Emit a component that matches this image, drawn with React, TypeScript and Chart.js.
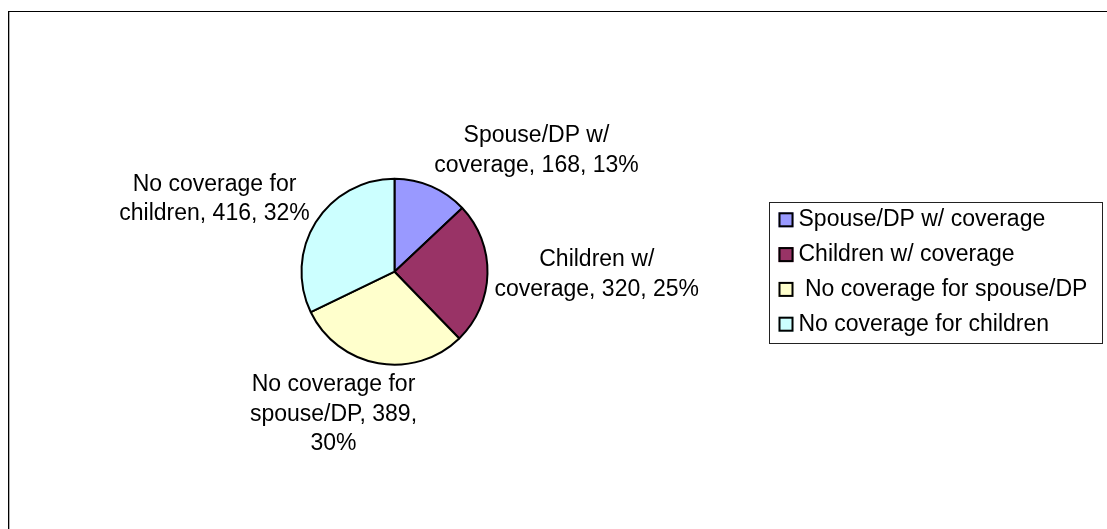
import React, { useEffect, useRef } from "react";
import { Chart, registerables } from "chart.js";

Chart.register(...registerables);

// ---- data ----
const categories = [
  "Spouse/DP w/ coverage",
  "Children w/ coverage",
  " No coverage for spouse/DP",
  "No coverage for children",
];
const counts = [168, 320, 389, 416];
const sliceColors = ["#9999FF", "#993366", "#FFFFCC", "#CCFFFF"];

// ---- style ----
const FONT = "'Liberation Sans', Arial, Helvetica, sans-serif";
const FONT_SIZE = 23;
const LINE_H = 29.5;
const WRAP_W = 210;
const W = 1107;
const H = 529;

function wrapText(ctx: CanvasRenderingContext2D, text: string, maxW: number): string[] {
  const words = text.split(" ");
  const lines: string[] = [];
  let cur = "";
  for (const w of words) {
    const test = cur ? cur + " " + w : w;
    if (cur && ctx.measureText(test).width > maxW) {
      lines.push(cur);
      cur = w;
    } else {
      cur = test;
    }
  }
  if (cur) lines.push(cur);
  return lines;
}

const framePlugin = {
  id: "frame",
  beforeDraw(chart: any) {
    const ctx = chart.ctx as CanvasRenderingContext2D;
    ctx.save();
    ctx.fillStyle = "#fff";
    ctx.fillRect(0, 0, chart.width, chart.height);
    ctx.fillStyle = "#000";
    ctx.fillRect(8, 11, 1, chart.height);
    ctx.fillRect(8, 11, chart.width, 1);
    ctx.fillStyle = "#b0b0b0";
    ctx.fillRect(9, 12, 1, chart.height);
    ctx.restore();
  },
};

const labelPlugin = {
  id: "sliceLabels",
  afterDatasetsDraw(chart: any) {
    const ctx = chart.ctx as CanvasRenderingContext2D;
    const meta = chart.getDatasetMeta(0);
    const values = chart.data.datasets[0].data as number[];
    const total = values.reduce((a, b) => a + b, 0);
    const clamp = (v: number) => Math.max(-1, Math.min(1, v));
    ctx.save();
    ctx.font = `${FONT_SIZE}px ${FONT}`;
    ctx.fillStyle = "#000";
    ctx.textAlign = "center";
    ctx.textBaseline = "middle";
    meta.data.forEach((el: any, i: number) => {
      const p = el.getProps(["x", "y", "startAngle", "endAngle", "outerRadius"], true);
      const m = (p.startAngle + p.endAngle) / 2;
      const R = p.outerRadius + 1 + 6;
      const ax = p.x + Math.cos(m) * R;
      const ay = p.y + Math.sin(m) * R;
      const pct = Math.round((values[i] / total) * 100);
      const text = `${String(chart.data.labels[i]).trim()}, ${values[i]}, ${pct}%`;
      const lines = wrapText(ctx, text, WRAP_W);
      const w = Math.max(...lines.map((l) => ctx.measureText(l).width));
      const h = lines.length * LINE_H;
      const fx = 0.5 * (1 - clamp(3 * Math.cos(m)));
      const fy = 0.5 * (1 - clamp(1.25 * Math.sin(m)));
      const left = ax - fx * w;
      const top = ay - fy * h;
      lines.forEach((l, j) => ctx.fillText(l, left + w / 2, top + (j + 0.5) * LINE_H));
    });
    ctx.restore();
  },
};

const legendPlugin = {
  id: "boxLegend",
  afterDraw(chart: any) {
    const ctx = chart.ctx as CanvasRenderingContext2D;
    const bx = 769, by = 202, bw = 333, bh = 141;
    const pitch = 34.8;
    const sqX = bx + 9.5, sqY0 = by + 10.3, sq = 15;
    const colors = chart.data.datasets[0].backgroundColor as string[];
    ctx.save();
    ctx.strokeStyle = "#222";
    ctx.lineWidth = 1;
    ctx.strokeRect(bx + 0.5, by + 0.5, bw, bh);
    ctx.font = `${FONT_SIZE}px ${FONT}`;
    ctx.textAlign = "left";
    ctx.textBaseline = "middle";
    (chart.data.labels as string[]).forEach((lab, i) => {
      const y = sqY0 + i * pitch;
      ctx.fillStyle = colors[i];
      ctx.fillRect(sqX, y, sq, sq);
      ctx.strokeStyle = "#000";
      ctx.lineWidth = 2;
      ctx.strokeRect(sqX + 1, y + 1, sq - 2, sq - 2);
      ctx.fillStyle = "#000";
      ctx.fillText(lab, sqX + sq + 5, y + sq / 2);
    });
    ctx.restore();
  },
};

export default function App() {
  const ref = useRef<HTMLCanvasElement | null>(null);
  useEffect(() => {
    if (!ref.current) return;
    Chart.defaults.font.family = FONT;
    const chart = new Chart(ref.current, {
      type: "pie",
      data: {
        labels: categories,
        datasets: [
          {
            data: counts,
            backgroundColor: sliceColors,
            borderColor: "#000",
            borderWidth: 2,
          },
        ],
      },
      options: {
        animation: false,
        responsive: false,
        devicePixelRatio: 1,
        layout: { padding: { left: 300.5, right: 618.5, top: 177.7, bottom: 163.3 } },
        plugins: {
          legend: { display: false },
          tooltip: { enabled: false },
          title: { display: false },
        },
      },
      plugins: [framePlugin, labelPlugin, legendPlugin],
    });
    return () => chart.destroy();
  }, []);
  return (
    <div style={{ position: "fixed", left: 0, top: 0, width: W, height: H, overflow: "hidden" }}>
      <canvas ref={ref} width={W} height={H} style={{ display: "block" }} />
    </div>
  );
}
